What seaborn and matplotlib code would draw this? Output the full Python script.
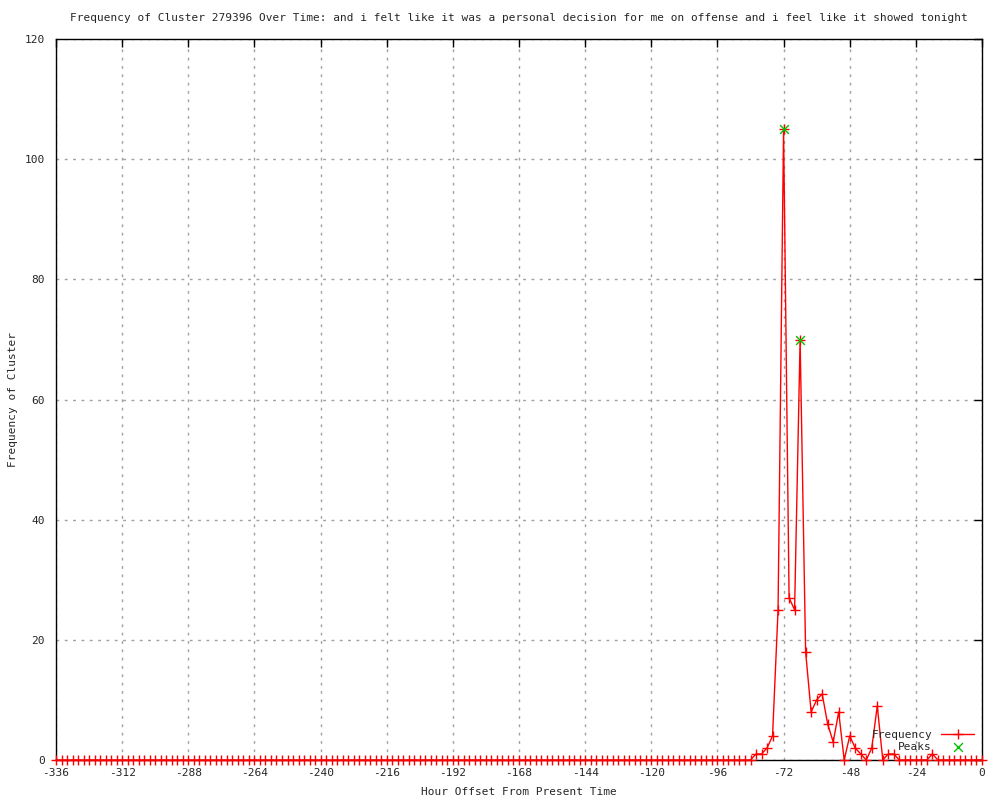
import numpy as np
import pandas as pd
import matplotlib
matplotlib.use("Agg")
import matplotlib.pyplot as plt
import seaborn as sns

# Hour offsets, every 2 hours from -336 to 0
hours = list(range(-336, 1, 2))

# Non-zero frequencies
nonzero = {
    -82: 1, -80: 1, -78: 2, -76: 4, -74: 25, -72: 105, -70: 27, -68: 25,
    -66: 70, -64: 18, -62: 8, -60: 10, -58: 11, -56: 6, -54: 3, -52: 8,
    -50: 0, -48: 4, -46: 2, -44: 1, -42: 0, -40: 2, -38: 9, -36: 0,
    -34: 1, -32: 1, -18: 1,
}
freq = [nonzero.get(h, 0) for h in hours]

peak_hours = [-72, -66]
peak_values = [105, 70]

df = pd.DataFrame({"hour": hours, "freq": freq})
peaks = pd.DataFrame({"hour": peak_hours, "freq": peak_values})

sns.set_style("white")
plt.rcParams["font.family"] = ["DejaVu Sans Mono", "DejaVu Sans"]
plt.rcParams["axes.unicode_minus"] = False

fig = plt.figure(figsize=(10, 8), dpi=100)
ax = fig.add_axes([0.056, 0.05, 0.926, 0.901])

sns.lineplot(data=df, x="hour", y="freq", ax=ax, color="red", linewidth=1,
             marker="+", markersize=7, markeredgewidth=1, markeredgecolor="red",
             label="Frequency", clip_on=False, zorder=4)
sns.scatterplot(data=peaks, x="hour", y="freq", ax=ax, color="#00c000",
                marker="x", s=40, linewidth=1, label="Peaks", zorder=5)

ax.set_xlim(-336, 0)
ax.set_ylim(0, 120)
ax.set_xticks(range(-336, 1, 24))
ax.set_yticks(range(0, 121, 20))
ax.tick_params(direction="in", length=6, top=True, right=True, labelsize=8,
               width=1, color="black")
ax.tick_params(axis="x", pad=6)
ax.tick_params(axis="y", pad=8)
ax.grid(True, linestyle=(0, (2, 4)), color="#a0a0a0", linewidth=1)
for s in ax.spines.values():
    s.set_color("black")
    s.set_linewidth(1)
    s.set_zorder(3)

ax.set_title("Frequency of Cluster 279396 Over Time: and i felt like it was a personal "
             "decision for me on offense and i feel like it showed tonight",
             fontsize=8, y=1.029, va="center", pad=0)
ax.set_xlabel("Hour Offset From Present Time", fontsize=8)
ax.set_ylabel("Frequency of Cluster", fontsize=8)
ax.xaxis.set_label_coords(0.5, -0.044)
ax.xaxis.label.set_va("center")
ax.yaxis.set_label_coords(-0.046, 0.5)
ax.yaxis.label.set_va("center")

leg = ax.legend(loc="lower right", frameon=False, fontsize=8, markerfirst=False,
                handlelength=3, borderaxespad=0.3, labelspacing=0.2)

fig.savefig("out.png", dpi=100)
